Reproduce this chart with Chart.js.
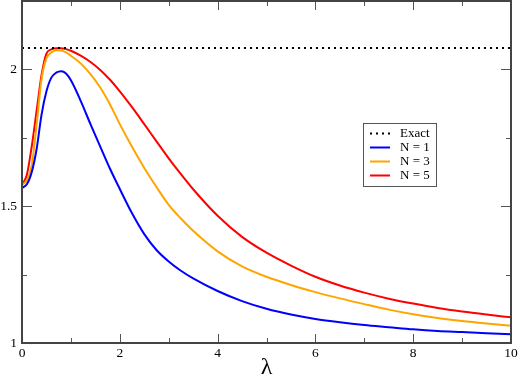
<!DOCTYPE html>
<html><head><meta charset="utf-8">
<script src="https://cdn.jsdelivr.net/npm/chart.js@4/dist/chart.umd.min.js"></script>
<style>html,body{margin:0;padding:0;background:#fff}#wrap{width:519px;height:382px}</style>
</head><body><div id="wrap"><canvas id="c" width="519" height="382"></canvas></div>
<script>
const lambda = [0,0.1,0.2,0.3,0.4,0.5,0.6,0.7,0.8,0.9,1.0,1.2,1.4,1.6,1.8,2.0,2.25,2.5,2.75,3.0,3.25,3.5,4.0,4.5,5.0,5.5,6.0,6.5,7.0,7.5,8.0,8.5,9.0,9.5,10];
const n1 = [1.567,1.58,1.625,1.71,1.835,1.92,1.97,1.988,1.993,1.985,1.96,1.885,1.80,1.718,1.637,1.563,1.474,1.398,1.340,1.298,1.264,1.236,1.190,1.153,1.125,1.104,1.088,1.076,1.066,1.058,1.050,1.044,1.040,1.036,1.032];
const n3 = [1.579,1.595,1.65,1.80,1.965,2.04,2.062,2.070,2.069,2.062,2.050,2.022,1.983,1.934,1.872,1.800,1.717,1.640,1.570,1.505,1.455,1.410,1.335,1.280,1.242,1.212,1.186,1.163,1.142,1.122,1.105,1.091,1.080,1.071,1.063];
const n5 = [1.579,1.615,1.72,1.85,1.98,2.058,2.073,2.077,2.077,2.074,2.068,2.050,2.027,1.998,1.962,1.920,1.862,1.800,1.737,1.675,1.617,1.562,1.465,1.388,1.330,1.283,1.242,1.210,1.184,1.162,1.144,1.128,1.115,1.104,1.094];
const exactValue = 2.078;
const seriesLabels = ["Exact","N = 1","N = 3","N = 5"];
const xMajorTicks = [0,2,4,6,8,10];
const xMinorTicks = [1,3,5,7,9];
const yMajorTicks = [1,1.5,2];
const yMinorTicks = [1.25,1.75,2.25];
const xRange = [0,10];
const yRange = [1,2.25];

const pts = arr => lambda.map((x,i)=>({x:x,y:arr[i]}));
const FONT = "'Liberation Serif','DejaVu Serif',serif";

const frameTicks = {
  id:'frameTicks',
  afterDraw(chart){
    const {ctx, chartArea:a, scales:{x,y}} = chart;
    ctx.save();
    ctx.strokeStyle = '#555'; ctx.lineWidth = 1;
    const tick = (x1,y1,x2,y2)=>{ctx.beginPath();ctx.moveTo(x1,y1);ctx.lineTo(x2,y2);ctx.stroke();};
    xMajorTicks.forEach(v=>{const p=Math.round(x.getPixelForValue(v))+0.5; tick(p,a.bottom,p,a.bottom-9); tick(p,a.top,p,a.top+9);});
    xMinorTicks.forEach(v=>{const p=Math.round(x.getPixelForValue(v))+0.5; tick(p,a.bottom,p,a.bottom-5); tick(p,a.top,p,a.top+5);});
    yMajorTicks.forEach(v=>{const p=Math.round(y.getPixelForValue(v))+0.5; tick(a.left,p,a.left+10,p); tick(a.right,p,a.right-10,p);});
    yMinorTicks.forEach(v=>{const p=Math.round(y.getPixelForValue(v))+0.5; tick(a.left,p,a.left+5,p); tick(a.right,p,a.right-5,p);});
    ctx.strokeStyle = '#444'; ctx.lineWidth = 2;
    ctx.strokeRect(a.left, a.top, a.right-a.left, a.bottom-a.top);
    // legend box
    const bx=363, by=123, bw=73, bh=63;
    ctx.fillStyle='#fff'; ctx.fillRect(bx,by,bw,bh);
    ctx.strokeStyle='#555'; ctx.lineWidth=1; ctx.strokeRect(bx+0.5,by+0.5,bw,bh);
    ctx.font = "13px "+FONT; ctx.textBaseline='middle'; ctx.fillStyle='#000';
    chart.data.datasets.forEach((ds,i)=>{
      const yy = by + 10.5 + i*14;
      ctx.save();
      ctx.strokeStyle = ds.borderColor; ctx.lineWidth = ds.borderWidth;
      ctx.setLineDash(ds.borderDash||[]);
      tick(370,yy,390,yy);
      ctx.restore();
      ctx.fillText(ds.label, 400, yy+0.5);
    });
    ctx.restore();
  }
};

new Chart(document.getElementById('c'), {
  type:'line',
  data:{datasets:[
    {label:seriesLabels[0], data:[{x:xRange[0],y:exactValue},{x:xRange[1],y:exactValue}], borderColor:'#000', borderWidth:2, borderDash:[2,4], pointRadius:0},
    {label:seriesLabels[1], data:pts(n1), borderColor:'#0000ff', borderWidth:2, pointRadius:0, cubicInterpolationMode:'monotone'},
    {label:seriesLabels[2], data:pts(n3), borderColor:'#ffa500', borderWidth:2, pointRadius:0, cubicInterpolationMode:'monotone'},
    {label:seriesLabels[3], data:pts(n5), borderColor:'#ff0000', borderWidth:2, pointRadius:0, cubicInterpolationMode:'monotone'}
  ]},
  options:{
    responsive:false, animation:false, devicePixelRatio:1,
    layout:{padding:{top:1,right:8,left:0,bottom:0}},
    plugins:{legend:{display:false}, tooltip:{enabled:false}},
    scales:{
      x:{type:'linear', min:xRange[0], max:xRange[1],
        grid:{display:false, drawTicks:false}, border:{display:false},
        afterBuildTicks:s=>{s.ticks = xMajorTicks.map(v=>({value:v}));},
        afterFit:s=>{s.height=39; s.paddingLeft=0; s.paddingRight=0; s.paddingTop=0; s.paddingBottom=0;},
        ticks:{font:{family:FONT,size:13.5}, color:'#000', padding:2, maxRotation:0, autoSkip:false},
        title:{display:true, text:'λ', font:{family:FONT,size:24}, color:'#000', padding:{top:0,bottom:0}}
      },
      y:{type:'linear', min:yRange[0], max:yRange[1],
        grid:{display:false, drawTicks:false}, border:{display:false},
        afterBuildTicks:s=>{s.ticks = yMajorTicks.map(v=>({value:v}));},
        afterFit:s=>{s.width=22; s.paddingTop=0; s.paddingBottom=0; s.paddingLeft=0; s.paddingRight=0;},
        ticks:{font:{family:FONT,size:13.5}, color:'#000', padding:5, autoSkip:false, callback:v=>String(v)}
      }
    }
  },
  plugins:[frameTicks]
});
</script></body></html>
